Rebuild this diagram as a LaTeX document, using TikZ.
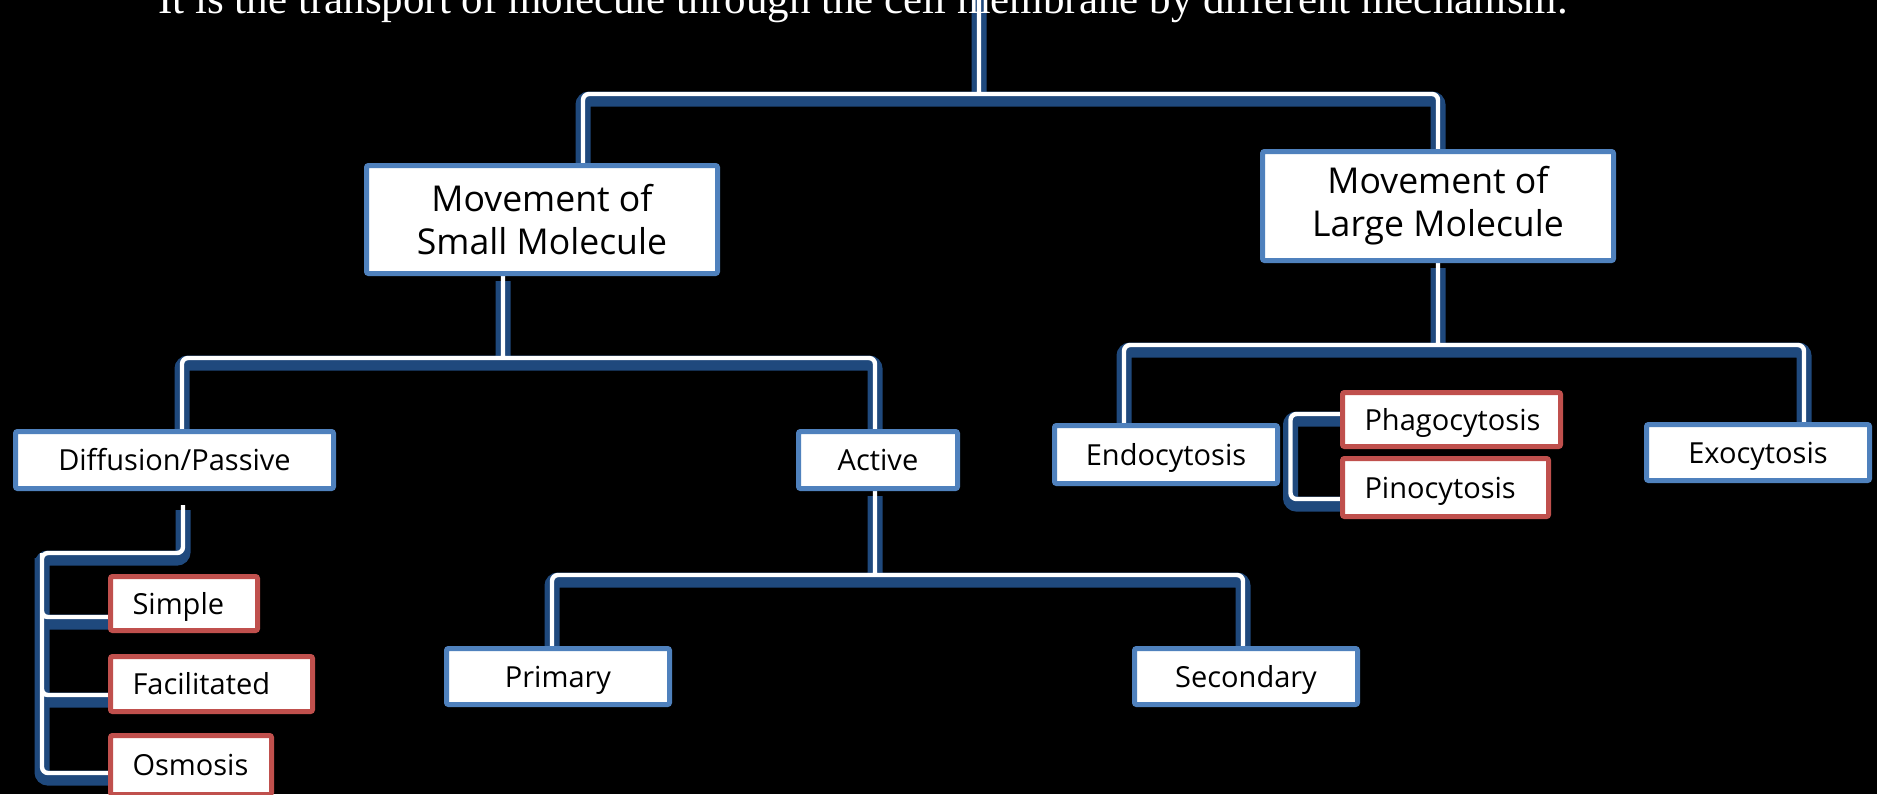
\documentclass[tikz,border=0pt]{standalone}
\usepackage{fontspec}
\setmainfont{Open Sans}
\newfontfamily\headfont{Liberation Serif}
\usetikzlibrary{backgrounds}

\definecolor{boxblue}{RGB}{79,129,189}
\definecolor{boxred}{RGB}{192,80,77}
\definecolor{pipeblue}{RGB}{31,73,125}

\tikzset{
  boxbase/.style={fill=white, line width=2.5pt, rounded corners=1pt},
  bluebox/.style={boxbase, draw=boxblue, inner sep=0pt,
    text height=10.6pt, text depth=0pt, font=\fontsize{14.5}{17}\selectfont},
  bigbox/.style={boxbase, draw=boxblue, inner sep=0pt, align=center,
    minimum width=175.5pt, minimum height=54pt, font=\fontsize{17.8}{21.5}\selectfont},
  redbox/.style={boxbase, draw=boxred, inner xsep=11pt, inner ysep=0pt, align=left,
    text height=10.6pt, text depth=0pt, minimum height=27pt,
    font=\fontsize{14.5}{17}\selectfont},
  pipe/.style={draw=white, line width=2.2pt, rounded corners=3pt,
    preaction={draw=pipeblue, line width=7.5pt, transform canvas={shift={(0pt,-2.5pt)}}}}
}

\begin{document}
\begin{tikzpicture}[x=0.5pt,y=-0.5pt]
\useasboundingbox (0,0) rectangle (1877,794);
%Heading
\node[anchor=base west, inner sep=0pt, text=white, font=\headfont\fontsize{21.5}{26}\selectfont] (head) at (158,13) {It is the transport of molecule through the cell membrane by different mechanism.};
%Small and large molecules
\node[bigbox] (small) at (542,219.5) {Movement of\\Small Molecule};
\node[bigbox, minimum height=54.5pt] (large) at (1438,206) {Movement of\\Large Molecule};
%Second row
\node[bluebox, minimum width=159pt, minimum height=28.5pt] (diff) at (174.5,460) {Diffusion/Passive};
\node[bluebox, minimum width=79.5pt, minimum height=28.5pt] (active) at (878,460) {Active};
\node[bluebox, minimum width=111.5pt, minimum height=29pt] (endo) at (1166,454.5) {Endocytosis};
\node[bluebox, minimum width=111.5pt, minimum height=28pt] (exo) at (1758,452.5) {Exocytosis};
%Active transport
\node[bluebox, minimum width=111.5pt, minimum height=28pt] (primary) at (558,676.5) {Primary};
\node[bluebox, minimum width=111.5pt, minimum height=28pt] (secondary) at (1246,676.5) {Secondary};
%Passive transport
\node[redbox, text width=51.5pt] (simple) at (184,603.5) {Simple};
\node[redbox, text width=79pt, minimum height=27.5pt] (facil) at (211.5,684) {Facilitated};
\node[redbox, text width=58.5pt, minimum height=29.5pt] (osmosis) at (191,765) {Osmosis};
%Endocytosis
\node[redbox, text width=87pt] (phago) at (1451.5,419.5) {Phagocytosis};
\node[redbox, text width=81pt, minimum height=29pt] (pino) at (1445.5,487.5) {Pinocytosis};

\begin{scope}[on background layer]
\fill[black] (0,0) rectangle (1877,794);
\coordinate (top) at (979,-10);
\coordinate (hub) at (979,94);
\coordinate (bus1) at (503,358);
\coordinate (bus2) at (875,575);
\coordinate (bus3) at (1438,345);
\coordinate (dtop) at (183,505);
\coordinate (spine) at (42,553);
\draw[pipe] (top) -- (hub) ([xshift=20.5pt]small.north) |- (hub) -| (large.north);
\draw[pipe] ([xshift=-19.5pt]small.south) -- (bus1)
  ([xshift=3.75pt]diff.north) |- (bus1) -| ([xshift=-1.5pt]active.north);
\draw[pipe] ([xshift=-1.5pt]active.south) -- (bus2)
  ([xshift=-3pt]primary.north) |- (bus2) -| ([xshift=-1.5pt]secondary.north);
\draw[pipe] (large.south) -- (bus3)
  ([xshift=-21pt]endo.north) |- (bus3) -| ([xshift=23pt]exo.north);
\draw[pipe] (dtop) |- (spine) |- ([yshift=-4pt]osmosis.west)
  ([yshift=-6.75pt]simple.west) -| (spine)
  ([yshift=-5.5pt]facil.west) -| (spine);
\draw[pipe] ([yshift=2.75pt]phago.west) -| ([xshift=5.25pt]endo.east) |- ([yshift=-5.75pt]pino.west);
\end{scope}
\end{tikzpicture}
\end{document}
